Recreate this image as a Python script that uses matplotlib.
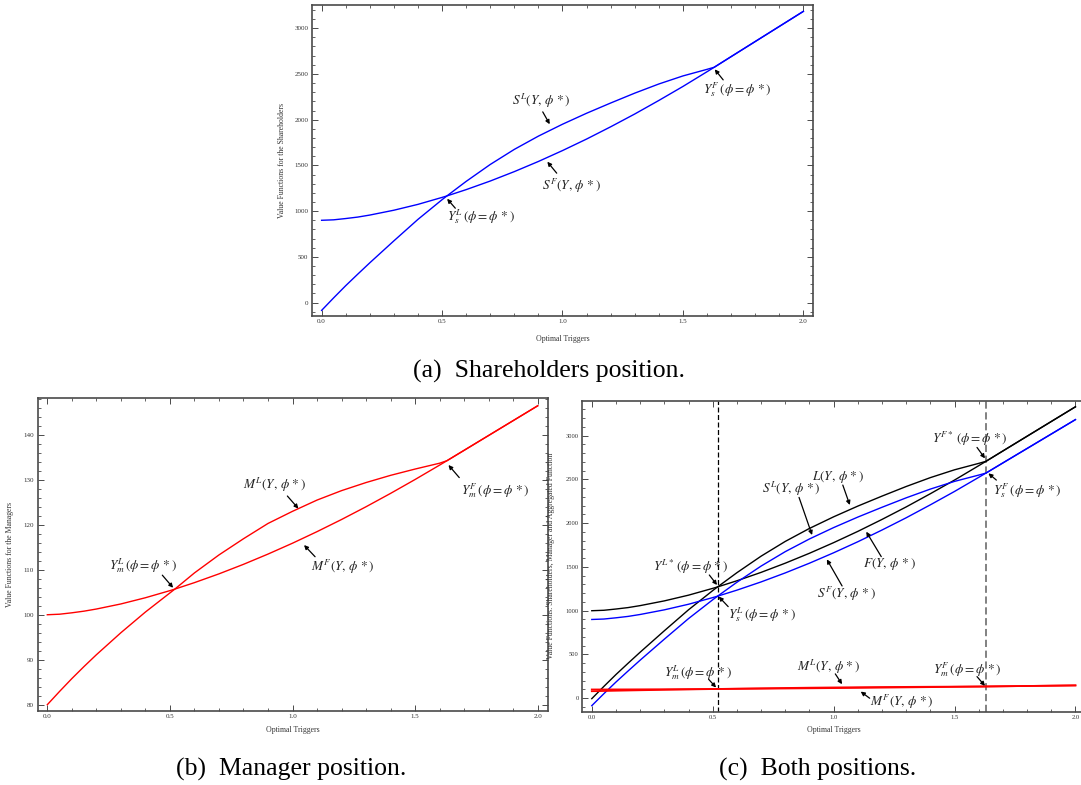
import matplotlib
matplotlib.use("Agg")
import matplotlib.pyplot as plt
from matplotlib.ticker import MultipleLocator, FormatStrFormatter

plt.rcParams['font.family'] = ['Liberation Serif', 'DejaVu Serif']
plt.rcParams['mathtext.fontset'] = 'stix'

# trigger grid (the two thresholds 0.52 and 1.63 are included)
triggers = [0.0, 0.05, 0.1, 0.15, 0.2, 0.3, 0.4, 0.5, 0.52, 0.6, 0.7, 0.8, 0.9, 1.0,
            1.1, 1.2, 1.3, 1.4, 1.5, 1.6, 1.63, 1.7, 1.8, 1.9, 2.0]
y_leader = 0.52
y_follower = 1.63

# shareholders
share_leader = [-85, 52, 185, 311, 435, 675, 910, 1125, 1166, 1325, 1510, 1675, 1820, 1950,
                2070, 2182, 2290, 2390, 2478, 2550, 2573, 2689, 2854, 3019, 3184]
share_follower = [900, 905, 919, 935, 957, 1010, 1074, 1150, 1166, 1235, 1329, 1432, 1543, 1662,
                  1788, 1922, 2062, 2210, 2363, 2524, 2573, 2689, 2854, 3019, 3184]

# managers
mgr_leader = [80.0, 82.95, 85.8, 88.5, 91.1, 96.0, 100.6, 104.85, 105.7, 109.3, 113.3, 116.9,
              120.3, 123.0, 125.5, 127.6, 129.4, 131.0, 132.4, 133.7, 134.26, 136.57, 139.87,
              143.17, 146.47]
mgr_follower = [100.0, 100.12, 100.43, 100.8, 101.27, 102.4, 103.78, 105.36, 105.7, 107.14,
                109.09, 111.21, 113.49, 115.91, 118.48, 121.18, 124.02, 126.99, 130.08, 133.28,
                134.26, 136.57, 139.87, 143.17, 146.47]

# aggregated (shareholders + managers)
agg_leader = [-5.0, 135.0, 270.8, 399.5, 526.1, 771.0, 1010.6, 1229.9, 1271.7, 1434.3, 1623.3,
              1791.9, 1940.3, 2073.0, 2195.5, 2309.6, 2419.4, 2521.0, 2610.4, 2683.7, 2707.3,
              2825.6, 2993.9, 3162.2, 3330.5]
agg_follower = [1000.0, 1005.1, 1019.4, 1035.8, 1058.3, 1112.4, 1177.8, 1255.4, 1271.7, 1342.1,
                1438.1, 1543.2, 1656.5, 1777.9, 1906.5, 2043.2, 2186.0, 2337.0, 2493.1, 2657.3,
                2707.3, 2825.6, 2993.9, 3162.2, 3330.5]

FRAME = '#4a4a4a'
TXT = '#222222'


def style_axes(ax, ylim, ymajor, yminor, ylabel, ylabel_x, xlabel_y, ticksize=5.0):
    ax.set_xlim(-0.04, 2.04)
    ax.set_ylim(*ylim)
    ax.xaxis.set_major_locator(MultipleLocator(0.5))
    ax.xaxis.set_minor_locator(MultipleLocator(0.1))
    ax.yaxis.set_major_locator(MultipleLocator(ymajor))
    ax.yaxis.set_minor_locator(MultipleLocator(yminor))
    ax.xaxis.set_major_formatter(FormatStrFormatter('%.1f'))
    ax.yaxis.set_major_formatter(FormatStrFormatter('%d'))
    ax.tick_params(which='both', direction='in', top=True, right=True,
                   color=FRAME, labelsize=ticksize, labelcolor='#333333')
    ax.tick_params(which='major', length=4, width=0.7, pad=2.5)
    ax.tick_params(which='minor', length=2, width=0.6)
    for sp in ax.spines.values():
        sp.set_color(FRAME)
        sp.set_linewidth(1.2)
    ax.set_xlabel('Optimal Triggers', fontsize=5.6, color='#333333')
    ax.set_ylabel(ylabel, fontsize=5.6, color='#333333')
    ax.xaxis.set_label_coords(0.5, xlabel_y)
    ax.yaxis.set_label_coords(ylabel_x, 0.5)


def tag(ax, text, pos, tail, head):
    ax.text(pos[0], pos[1], text, ha='center', va='center', fontsize=9.5, color=TXT)
    ax.annotate('', xy=head, xytext=tail,
                arrowprops=dict(arrowstyle='-|>', color='black', lw=0.9,
                                mutation_scale=6, shrinkA=0, shrinkB=0))


fig = plt.figure(figsize=(10.81, 7.85), dpi=100)

# (a) shareholders
ax_a = fig.add_axes([0.2886, 0.5975, 0.4635, 0.3962])
ax_a.plot(triggers, share_leader, color='blue', lw=1.0)
ax_a.plot(triggers, share_follower, color='blue', lw=1.0)
style_axes(ax_a, (-146, 3254), 500, 100, 'Value Functions for the Shareholders', -0.052, -0.06)
tag(ax_a, r'$S^L(Y,\,\phi\,*)$', (0.914, 2204), (0.918, 2085), (0.947, 1950))
tag(ax_a, r'$S^F(Y,\,\phi\,*)$', (1.039, 1276), (0.976, 1415), (0.937, 1540))
tag(ax_a, r'$Y_s^L\,(\phi=\phi\,*)$', (0.661, 942), (0.555, 1032), (0.521, 1135))
tag(ax_a, r'$Y_s^F\,(\phi=\phi\,*)$', (1.727, 2325), (1.667, 2435), (1.632, 2550))

# (b) managers
ax_b = fig.add_axes([0.0347, 0.0943, 0.4718, 0.3987])
ax_b.plot(triggers, mgr_leader, color='red', lw=1.0)
ax_b.plot(triggers, mgr_follower, color='red', lw=1.0)
style_axes(ax_b, (78.6, 148.2), 10, 2, 'Value Functions for the Managers', -0.046, -0.048)
tag(ax_b, r'$M^L(Y,\,\phi\,*)$', (0.928, 128.9), (0.979, 126.4), (1.024, 123.6))
tag(ax_b, r'$M^F(Y,\,\phi\,*)$', (1.205, 110.7), (1.092, 112.9), (1.047, 115.5))
tag(ax_b, r'$Y_m^L\,(\phi=\phi\,*)$', (0.391, 111.0), (0.469, 108.8), (0.513, 106.0))
tag(ax_b, r'$Y_m^F\,(\phi=\phi\,*)$', (1.825, 127.7), (1.680, 130.5), (1.636, 133.3))

# (c) both positions; the right edge of the frame runs just past the page
ax_c = fig.add_axes([0.5385, 0.0936, 0.4653, 0.3955])
ax_c.axvline(y_leader, color='black', lw=0.9, ls=(0, (4, 2)))
ax_c.axvline(y_follower, color='#777777', lw=1.3, ls=(0, (4, 2)))
ax_c.plot(triggers, agg_leader, color='black', lw=1.0)
ax_c.plot(triggers, agg_follower, color='black', lw=1.0)
ax_c.plot(triggers, share_leader, color='blue', lw=1.0)
ax_c.plot(triggers, share_follower, color='blue', lw=1.0)
ax_c.plot(triggers, mgr_leader, color='red', lw=1.3)
ax_c.plot(triggers, mgr_follower, color='red', lw=1.3)
style_axes(ax_c, (-152, 3396), 500, 100,
           'Value Functions: Shareholders, Manager and Aggregated Function', -0.053, -0.048,
           ticksize=4.7)
ax_c.tick_params(which='both', right=False)
tag(ax_c, r'$Y^{F*}\,(\phi=\phi\,*)$', (1.564, 2962), (1.593, 2866), (1.626, 2741))
tag(ax_c, r'$L(Y,\,\phi\,*)$', (1.017, 2531), (1.038, 2436), (1.067, 2208))
tag(ax_c, r'$S^L(Y,\,\phi\,*)$', (0.824, 2394), (0.857, 2295), (0.911, 1865))
tag(ax_c, r'$F(Y,\,\phi\,*)$', (1.232, 1534), (1.197, 1618), (1.135, 1903))
tag(ax_c, r'$S^F(Y,\,\phi\,*)$', (1.055, 1191), (1.035, 1283), (0.972, 1587))
tag(ax_c, r'$Y^{L*}\,(\phi=\phi\,*)$', (0.407, 1496), (0.486, 1408), (0.518, 1294))
tag(ax_c, r'$Y_s^L\,(\phi=\phi\,*)$', (0.704, 952), (0.564, 1047), (0.525, 1161))
tag(ax_c, r'$Y_s^F\,(\phi=\phi\,*)$', (1.799, 2368), (1.673, 2493), (1.640, 2570))
tag(ax_c, r'$Y_m^L\,(\phi=\phi\,*)$', (0.441, 297), (0.483, 217), (0.514, 122))
tag(ax_c, r'$M^L(Y,\,\phi\,*)$', (0.979, 362), (1.007, 278), (1.035, 160))
tag(ax_c, r'$Y_m^F\,(\phi=\phi\,*)$', (1.551, 331), (1.593, 247), (1.626, 141))
tag(ax_c, r'$M^F(Y,\,\phi\,*)$', (1.283, -46), (1.149, 0), (1.112, 76))

# captions
fig.text(685 / 1081, 1 - 378 / 785, '(a)  Shareholders position.', ha='right', va='baseline',
         fontsize=18.5, color='black')
fig.text(291 / 1081, 1 - 776 / 785, '(b)  Manager position.', ha='center', va='baseline',
         fontsize=18.5, color='black')
fig.text(818 / 1081, 1 - 776 / 785, '(c)  Both positions.', ha='center', va='baseline',
         fontsize=18.5, color='black')

fig.savefig('out.png', dpi=100)
